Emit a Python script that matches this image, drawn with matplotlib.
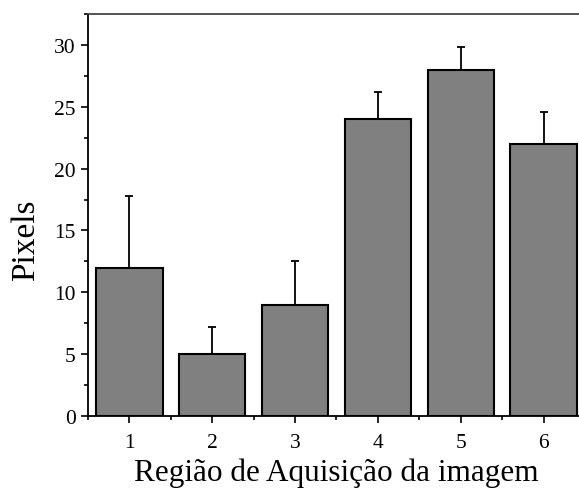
import matplotlib
matplotlib.use('Agg')
import matplotlib.pyplot as plt
from matplotlib.ticker import MultipleLocator

regioes = [1, 2, 3, 4, 5, 6]
pixels = [12, 5, 9, 24, 28, 22]
erros = [5.8, 2.2, 3.5, 2.2, 1.8, 2.6]

plt.rcParams['font.family'] = ['Liberation Serif', 'DejaVu Serif']

fig = plt.figure(figsize = (5.79, 4.89), dpi = 100)
ax = fig.add_axes([88 / 579, (489 - 417) / 489, 497 / 579, 402 / 489])

ax.bar(regioes, pixels, width = 0.8, color = '#808080', edgecolor = 'black', linewidth = 1.5)
ax.errorbar(regioes, pixels, yerr = [[0] * 6, erros], fmt = 'none', ecolor = 'black',
            elinewidth = 1.3, capsize = 3, capthick = 1.3)

ax.set_xlim(0.5, 6.5)
ax.set_ylim(0, 32.5)
ax.set_xticks(regioes)
ax.yaxis.set_major_locator(MultipleLocator(5))
ax.yaxis.set_minor_locator(MultipleLocator(2.5))
ax.xaxis.set_minor_locator(MultipleLocator(0.5))

ax.tick_params(which = 'major', direction = 'out', length = 5, width = 1.2, labelsize = 15.5)
ax.tick_params(which = 'minor', direction = 'out', length = 3, width = 1.2)
ax.tick_params(axis = 'x', which = 'major', pad = 7)
ax.tick_params(axis = 'y', which = 'major', pad = 4)
for s in ax.spines.values():
    s.set_linewidth(1.3)
ax.spines['top'].set_color('#444444')

ax.set_xlabel('Região de Aquisição da imagem', fontsize = 22.5, labelpad = 4)
ax.set_ylabel('Pixels', fontsize = 24)
ax.yaxis.set_label_coords(-0.094, 0.44)

fig.savefig('out.png', dpi = 100)
